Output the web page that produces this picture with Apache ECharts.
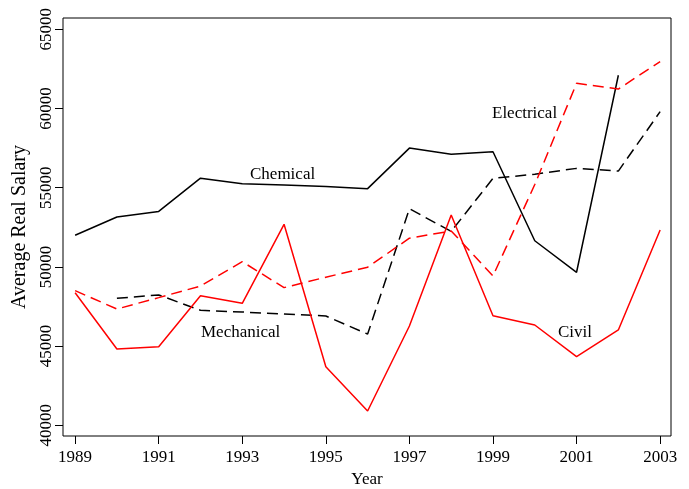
<!DOCTYPE html>
<html>
<head>
<meta charset="utf-8">
<script src="https://cdn.jsdelivr.net/npm/echarts@6/dist/echarts.min.js"></script>
<style>
html, body { margin: 0; padding: 0; background: #fff; }
#main { width: 689px; height: 489px; }
</style>
</head>
<body>
<div id="main"></div>
<script>
// data
var years = [1989, 1990, 1991, 1992, 1993, 1994, 1995, 1996, 1997, 1998, 1999, 2000, 2001, 2002, 2003];
var chemical   = [52000, 53150, 53500, 55600, 55250, 55170, 55080, 54940, 57500, 57110, 57270, 51650, 49660, 62100, null];
var mechanical = [null, 48020, 48230, 47260, 47150, 47030, 46900, 45760, 53670, 52240, 55590, 55850, 56220, 56050, 59800];
var electrical = [48500, 47340, 48060, 48790, 50330, 48690, 49350, 49980, 51810, 52270, 49430, 55200, 61590, 61230, 62960];
var civil      = [48370, 44820, 44960, 48180, 47700, 52690, 43700, 40900, 46270, 53280, 46920, 46330, 44330, 46020, 52330];
var xTicks = [1989, 1991, 1993, 1995, 1997, 1999, 2001, 2003];
var yTicks = [40000, 45000, 50000, 55000, 60000, 65000];

var font = 'Liberation Serif';

function pairs(vals) {
    var out = [];
    for (var i = 0; i < years.length; i++) {
        if (vals[i] != null) out.push([years[i], vals[i]]);
    }
    return out;
}

function line(name, vals, color, dashed) {
    return {
        name: name,
        type: 'line',
        data: pairs(vals),
        symbol: 'none',
        silent: true,
        lineStyle: { color: color, width: 1.5, type: dashed ? [11, 6] : 'solid' }
    };
}

function tag(text, x, y) {
    return {
        type: 'text', x: x, y: y,
        style: { text: text, font: '17px "Liberation Serif"', fill: '#000', verticalAlign: 'middle' }
    };
}

var chart = echarts.init(document.getElementById('main'));

chart.setOption({
    animation: false,
    backgroundColor: '#fff',
    textStyle: { fontFamily: font },
    grid: {
        left: 63, right: 18, top: 18, bottom: 53,
        outerBoundsMode: 'none',
        containLabel: false,
        show: true, borderColor: '#000', borderWidth: 1, backgroundColor: 'transparent'
    },
    xAxis: {
        type: 'value',
        min: 1988.71, max: 2003.26,
        name: 'Year', nameLocation: 'middle', nameGap: 35,
        nameTextStyle: { fontFamily: font, fontSize: 17, color: '#000' },
        axisLine: { show: false },
        splitLine: { show: false },
        axisTick: { show: true, inside: false, length: 8, lineStyle: { color: '#000' }, customValues: xTicks },
        axisLabel: {
            fontFamily: font, fontSize: 17, color: '#000', margin: 13, customValues: xTicks,
            formatter: function (v) { return String(v); }
        }
    },
    yAxis: {
        type: 'value',
        min: 39324, max: 65713,
        name: 'Average Real Salary', nameLocation: 'middle', nameGap: 32,
        nameTextStyle: { fontFamily: font, fontSize: 20, color: '#000' },
        axisLine: { show: false },
        splitLine: { show: false },
        axisTick: { show: true, inside: false, length: 8, lineStyle: { color: '#000' }, customValues: yTicks },
        axisLabel: {
            fontFamily: font, fontSize: 17, color: '#000', margin: 8, rotate: 90, customValues: yTicks,
            formatter: function (v) { return String(v); }
        }
    },
    graphic: [
        tag('Chemical', 250, 175),
        tag('Electrical', 492, 114),
        tag('Mechanical', 201, 333),
        tag('Civil', 558, 333)
    ],
    series: [
        line('Chemical', chemical, '#000', false),
        line('Mechanical', mechanical, '#000', true),
        line('Electrical', electrical, '#ff0000', true),
        line('Civil', civil, '#ff0000', false)
    ]
});
</script>
</body>
</html>
